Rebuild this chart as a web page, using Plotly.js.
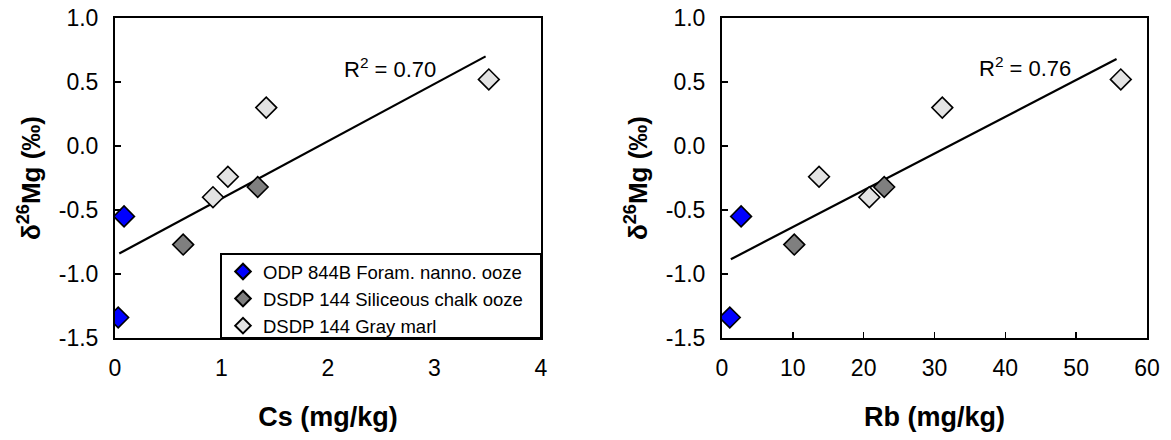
<!DOCTYPE html>
<html>
<head>
<meta charset="utf-8">
<script src="https://cdn.plot.ly/plotly-3.0.1.min.js"></script>
<style>html,body{margin:0;padding:0;background:#fff}#chart{width:1171px;height:440px}</style>
</head>
<body>
<div id="chart"></div>
<script>
// Series names
const seriesNames = ["ODP 844B Foram. nanno. ooze", "DSDP 144 Siliceous chalk ooze", "DSDP 144 Gray marl"];
// δ26Mg values (‰)
const mgBlue = [-0.55, -1.34];
const mgDark = [-0.77, -0.32];
const mgLight = [-0.40, -0.24, 0.30, 0.52];
// Cs (mg/kg)
const csBlue = [0.085, 0.03];
const csDark = [0.64, 1.34];
const csLight = [0.92, 1.06, 1.42, 3.51];
// Rb (mg/kg)
const rbBlue = [2.7, 1.1];
const rbDark = [10.2, 22.9];
const rbLight = [20.8, 13.7, 31.1, 56.3];
// Regression line end points
const fitCsX = [0.04, 3.48];
const fitCsY = [-0.84, 0.70];
const fitRbX = [1.25, 55.7];
const fitRbY = [-0.885, 0.68];
const r2Labels = ["R<sup>2</sup> = 0.70", "R<sup>2</sup> = 0.76"];
const r2Pos = [[2.58, 0.61], [42.8, 0.615]];
// Axis ticks
const csTicks = [0, 1, 2, 3, 4];
const rbTicks = [0, 10, 20, 30, 40, 50, 60];
const mgTicks = [-1.5, -1.0, -0.5, 0.0, 0.5, 1.0];

const FONT = "Liberation Sans, Arial, sans-serif";
const colors = ["#0000ff", "#7f7f7f", "#e3e3e3"];
const mk = (c) => ({symbol: "diamond", size: 16, color: c, line: {color: "#000", width: 1.6}});

const traces = [
  {x: fitCsX, y: fitCsY, mode: "lines", line: {color: "#000", width: 2.2}, showlegend: false, xaxis: "x", yaxis: "y", hoverinfo: "skip"},
  {x: fitRbX, y: fitRbY, mode: "lines", line: {color: "#000", width: 2.2}, showlegend: false, xaxis: "x2", yaxis: "y2", hoverinfo: "skip"},
  {x: csLight, y: mgLight, mode: "markers", name: seriesNames[2], marker: mk(colors[2]), xaxis: "x", yaxis: "y", legendrank: 3},
  {x: csDark, y: mgDark, mode: "markers", name: seriesNames[1], marker: mk(colors[1]), xaxis: "x", yaxis: "y", legendrank: 2},
  {x: csBlue, y: mgBlue, mode: "markers", name: seriesNames[0], marker: mk(colors[0]), xaxis: "x", yaxis: "y", legendrank: 1},
  {x: rbLight, y: mgLight, mode: "markers", name: seriesNames[2], marker: mk(colors[2]), xaxis: "x2", yaxis: "y2", showlegend: false},
  {x: rbDark, y: mgDark, mode: "markers", name: seriesNames[1], marker: mk(colors[1]), xaxis: "x2", yaxis: "y2", showlegend: false},
  {x: rbBlue, y: mgBlue, mode: "markers", name: seriesNames[0], marker: mk(colors[0]), xaxis: "x2", yaxis: "y2", showlegend: false}
];

const W = 1171, H = 440;
const yDom = [1 - 338 / H, 1 - 18 / H];
const axBase = {
  showline: true, linecolor: "#000", linewidth: 2, mirror: true,
  ticks: "inside", ticklen: 6, tickwidth: 1.5, tickcolor: "#000",
  showgrid: false, zeroline: false, fixedrange: true,
  tickfont: {family: FONT, size: 23, color: "#000"}
};
const xTitle = (t) => ({text: t, font: {family: FONT, size: 27, color: "#000", weight: "bold"}, standoff: 28});
const yTitle = {text: "δ<sup>26</sup>Mg (‰)", font: {family: FONT, size: 26, color: "#000", weight: "bold"}, standoff: 11};

const layout = {
  width: W, height: H,
  margin: {l: 0, r: 0, t: 0, b: 0},
  paper_bgcolor: "#fff", plot_bgcolor: "#fff",
  font: {family: FONT, color: "#000"},
  xaxis: Object.assign({}, axBase, {domain: [115 / W, 541 / W], range: [0, 4], tickvals: csTicks, ticktext: csTicks.map(String), ticklabelstandoff: 8, anchor: "y", title: xTitle("Cs (mg/kg)")}),
  yaxis: Object.assign({}, axBase, {domain: yDom, range: [-1.5, 1.0], tickvals: mgTicks, ticktext: mgTicks.map(v => v.toFixed(1)), ticklabelstandoff: 10, anchor: "x", title: yTitle}),
  xaxis2: Object.assign({}, axBase, {domain: [722 / W, 1147 / W], range: [0, 60], tickvals: rbTicks, ticktext: rbTicks.map(String), ticklabelstandoff: 8, anchor: "y2", title: xTitle("Rb (mg/kg)")}),
  yaxis2: Object.assign({}, axBase, {domain: yDom, range: [-1.5, 1.0], tickvals: mgTicks, ticktext: mgTicks.map(v => v.toFixed(1)), ticklabelstandoff: 10, anchor: "x2", title: yTitle}),
  shapes: [
    {type: "rect", xref: "paper", yref: "paper", layer: "above",
     x0: 221 / W, x1: 541 / W, y0: 1 - 338 / H, y1: 1 - 254 / H,
     line: {color: "#000", width: 2}, fillcolor: "#fff"}
  ],
  legend: {
    x: 528 / W, y: 1 - 345 / H, xanchor: "right", yanchor: "bottom",
    bgcolor: "rgba(0,0,0,0)", borderwidth: 0,
    font: {family: FONT, size: 18.5, color: "#000"},
    itemsizing: "constant", tracegroupgap: 0
  },
  annotations: [
    {xref: "x", yref: "y", x: r2Pos[0][0], y: r2Pos[0][1], text: r2Labels[0], showarrow: false, font: {family: FONT, size: 22, color: "#000"}},
    {xref: "x2", yref: "y2", x: r2Pos[1][0], y: r2Pos[1][1], text: r2Labels[1], showarrow: false, font: {family: FONT, size: 22, color: "#000"}}
  ],
  showlegend: true
};

Plotly.newPlot("chart", traces, layout, {displayModeBar: false, staticPlot: true});
</script>
</body>
</html>
